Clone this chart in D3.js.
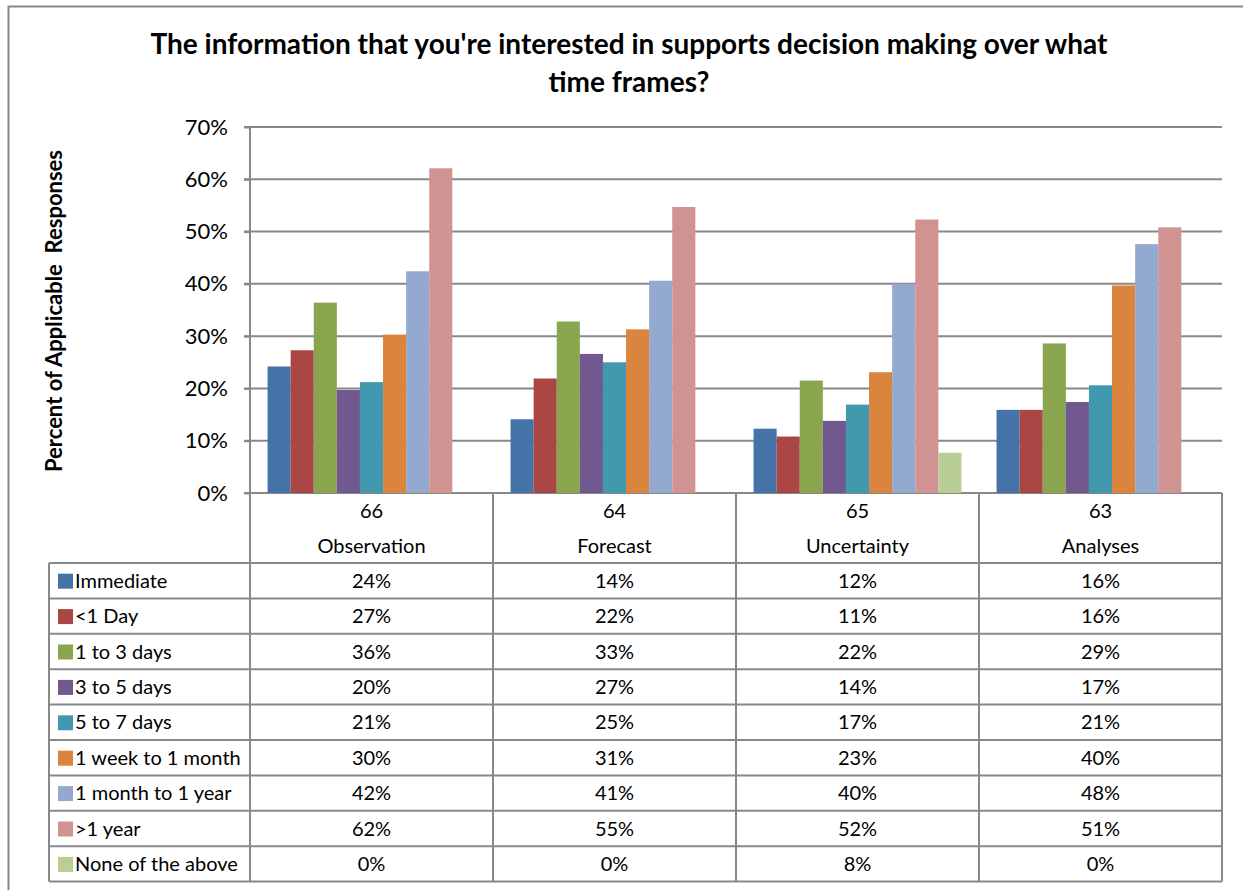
<!DOCTYPE html>
<html>
<head>
<meta charset="utf-8">
<script src="https://cdn.jsdelivr.net/npm/d3@7"></script>
<style>
  body { margin: 0; background: #fff; }
  text { font-family: Lato, "Open Sans", sans-serif; fill: #000; }
</style>
</head>
<body>
<script>
var w = 1243;
var h = 890;

// data
var categories = ["Observation", "Forecast", "Uncertainty", "Analyses"];
var counts = ["66", "64", "65", "63"];
var seriesNames = ["Immediate", "<1 Day", "1 to 3 days", "3 to 5 days", "5 to 7 days",
  "1 week to 1 month", "1 month to 1 year", ">1 year", "None of the above"];
var colors = ["#4572A7", "#AA4643", "#89A54E", "#71588F", "#4198AF",
  "#DB843D", "#93A9CF", "#D19392", "#B9CD96"];
// percent per series, one value per category
var immediate = [24.2, 14.1, 12.3, 15.9];
var lessOneDay = [27.3, 21.9, 10.8, 15.9];
var oneToThree = [36.4, 32.8, 21.5, 28.6];
var threeToFive = [19.7, 26.6, 13.8, 17.4];
var fiveToSeven = [21.2, 25.0, 16.9, 20.6];
var weekToMonth = [30.3, 31.3, 23.1, 39.7];
var monthToYear = [42.4, 40.6, 40.0, 47.6];
var overYear = [62.1, 54.7, 52.3, 50.8];
var noneAbove = [0, 0, 7.7, 0];
var yTicks = [0, 10, 20, 30, 40, 50, 60, 70];

var values = [immediate, lessOneDay, oneToThree, threeToFive, fiveToSeven,
  weekToMonth, monthToYear, overYear, noneAbove];

var dataset = [];
for (let s = 0; s < seriesNames.length; s++) {
  for (let c = 0; c < categories.length; c++) {
    dataset.push({ s: s, c: c, value: values[s][c] });
  }
}

var plotLeft = 250, plotRight = 1222, plotTop = 127, plotBase = 493;
var tableLeft = 49;
var rowH = 35.4;
var headerBottom = 563;
var gridColor = "#888";

var svg = d3.select("body").append("svg").attr("width", w).attr("height", h);

// outer frame (runs off the picture on right and bottom)
svg.append("rect").attr("x", 8.5).attr("y", 6.5).attr("width", 1300).attr("height", 1000)
  .attr("fill", "none").attr("stroke", gridColor).attr("stroke-width", 2);

var xScale = d3.scaleBand().domain(d3.range(categories.length)).range([plotLeft, plotRight]);
var xInner = d3.scaleBand().domain(d3.range(seriesNames.length))
  .range([0, xScale.bandwidth()]).paddingOuter(0.76);
var yScale = d3.scaleLinear().domain([0, 70]).range([plotBase, plotTop]);

// gridlines
svg.append("g").selectAll("line").data(yTicks).enter().append("line")
  .attr("x1", plotLeft - 6).attr("x2", plotRight)
  .attr("y1", function (d) { return yScale(d); })
  .attr("y2", function (d) { return yScale(d); })
  .attr("stroke", gridColor).attr("stroke-width", 2);

// y axis
var yAxis = d3.axisLeft(yScale).tickValues(yTicks).tickSize(6).tickPadding(16)
  .tickFormat(function (d) { return d + "%"; });
var gy = svg.append("g").attr("transform", "translate(" + plotLeft + ",0)").call(yAxis);
gy.select(".domain").remove();
gy.selectAll(".tick line").attr("stroke", gridColor).attr("stroke-width", 2);
gy.selectAll(".tick text").attr("font-size", "22px").attr("font-family", "Lato, sans-serif").attr("fill", "#000");

// bars
svg.append("g").selectAll("rect").data(dataset).enter().append("rect")
  .attr("x", function (d) { return xScale(d.c) + xInner(d.s); })
  .attr("y", function (d) { return yScale(d.value); })
  .attr("width", xInner.bandwidth())
  .attr("height", function (d) { return plotBase - yScale(d.value); })
  .attr("fill", function (d) { return colors[d.s]; });

// title
var title = svg.append("text").attr("text-anchor", "middle").attr("font-weight", "bold")
  .attr("font-size", "28px");
title.append("tspan").attr("x", 629).attr("y", 54)
  .text("The information that you're interested in supports decision making over what");
title.append("tspan").attr("x", 629).attr("y", 92).text("time frames?");

// y label
svg.append("text").attr("transform", "translate(62,311) rotate(-90)")
  .attr("text-anchor", "middle").attr("font-weight", "bold").attr("font-size", "22px")
  .style("white-space", "pre").text("Percent of Applicable  Responses");

// data table
var tableBottom = headerBottom + rowH * seriesNames.length;
var lines = svg.append("g").attr("stroke", gridColor).attr("stroke-width", 2);
lines.append("line").attr("x1", plotLeft).attr("x2", plotLeft).attr("y1", plotTop).attr("y2", tableBottom);
d3.range(categories.length).forEach(function (c) {
  var xr = xScale(c) + xScale.bandwidth();
  lines.append("line").attr("x1", xr).attr("x2", xr).attr("y1", plotBase).attr("y2", tableBottom);
});
lines.append("line").attr("x1", tableLeft).attr("x2", tableLeft).attr("y1", headerBottom).attr("y2", tableBottom);
d3.range(seriesNames.length + 1).forEach(function (r) {
  var yy = headerBottom + r * rowH;
  lines.append("line").attr("x1", tableLeft).attr("x2", plotRight).attr("y1", yy).attr("y2", yy);
});

// category header
var head = svg.append("g").selectAll("g").data(categories).enter().append("g");
head.append("text").attr("text-anchor", "middle").attr("font-size", "20px")
  .attr("x", function (d, i) { return xScale(i) + xScale.bandwidth() / 2; })
  .attr("y", 518).text(function (d, i) { return counts[i]; });
head.append("text").attr("text-anchor", "middle").attr("font-size", "20px")
  .attr("x", function (d, i) { return xScale(i) + xScale.bandwidth() / 2; })
  .attr("y", 553).text(function (d) { return d; });

// legend rows
var rows = svg.append("g").selectAll("g").data(seriesNames).enter().append("g")
  .attr("transform", function (d, i) { return "translate(0," + (headerBottom + i * rowH + rowH / 2) + ")"; });
rows.append("rect").attr("x", 58).attr("y", -7).attr("width", 15).attr("height", 15)
  .attr("fill", function (d, i) { return colors[i]; });
rows.append("text").attr("x", 75).attr("y", 7).attr("font-size", "20px")
  .text(function (d) { return d; });

// cell values
svg.append("g").selectAll("text").data(dataset).enter().append("text")
  .attr("text-anchor", "middle").attr("font-size", "20px")
  .attr("x", function (d) { return xScale(d.c) + xScale.bandwidth() / 2; })
  .attr("y", function (d) { return headerBottom + d.s * rowH + rowH / 2 + 7; })
  .text(function (d) { return Math.round(d.value) + "%"; });
</script>
</body>
</html>
